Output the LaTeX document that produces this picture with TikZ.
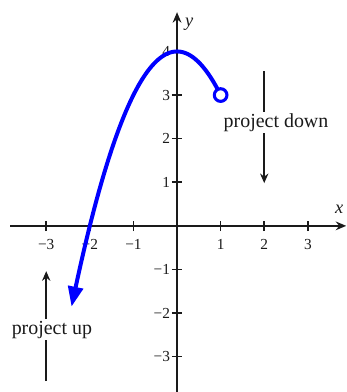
\documentclass[tikz,border=0pt]{standalone}
\usepackage{fontspec}
\setmainfont{Liberation Serif}
\newfontfamily\prserif{Liberation Serif}
\usetikzlibrary{arrows.meta, positioning}
\definecolor{PRblue}{HTML}{0000FF}
\definecolor{PRink}{HTML}{1A1A1A}
\tikzset{
  praxis/.style={draw=PRink, line width=1pt, -{Stealth[length=2.4mm,width=2mm]}},
  prtick/.style={draw=PRink, line width=1pt},
  prnum/.style={font=\prserif\fontsize{10}{12}\selectfont, text=PRink, inner sep=1pt},
  prvar/.style={font=\prserif\fontsize{12}{14}\selectfont\itshape, text=PRink, inner sep=1pt},
  prcurve/.style={draw=PRblue, line width=2.6pt, line cap=round,
    -{Triangle[length=4.6mm,width=3.4mm]}},
  prhole/.style={circle, draw=PRblue, fill=white, line width=2pt,
    minimum size=2.9mm, inner sep=0pt},
  prlbl/.style={font=\prserif\fontsize{13}{15}\selectfont, text=PRink, inner sep=1pt},
  prline/.style={draw=PRink, line width=1pt},
  prarr/.style={prline, -{Stealth[length=2.2mm,width=1.9mm]}},
}
\begin{document}
\begin{tikzpicture}[font=\prserif]
  \useasboundingbox (-4.06,-3.81) rectangle (3.88,5.18);
  %% Axes
  \coordinate (xl) at (-3.83,0); \coordinate (xr) at (3.88,0);
  \coordinate (yb) at (0,-3.81); \coordinate (yt) at (0,4.9);
  \draw[praxis] (xl) -- (xr);
  \draw[praxis] (yb) -- (yt);
  \node[prvar] (xlab) at (3.72,0.37) {x};
  \node[prvar] (ylab) at (0.28,4.62) {y};
  %% Ticks
  \foreach \i/\t in {-3/−3, -2/−2, -1/−1, 1/1, 2/2, 3/3} {
    \draw[prtick] (\i,-0.12) -- (\i,0.12);
    \node[prnum] (xt\i) at (\i,-0.42) {\t};
  }
  \foreach \i/\t in {-3/−3, -2/−2, -1/−1, 1/1, 2/2, 3/3, 4/4} {
    \draw[prtick] (-0.12,\i) -- (0.12,\i);
    \node[prnum, anchor=east] (yt\i) at (-0.12,\i) {\t};
  }
  %% Curve
  \draw[prcurve] plot[domain=1:-2.42, samples=60, smooth] (\x, {4-\x*\x});
  \node[prhole] (hole) at (1,3) {};
  %% Project down
  \node[prlbl] (pdown) at (2.27,2.37) {project down};
  \coordinate (pdtop) at (2,3.55);
  \coordinate (pdend) at (2,0.98);
  \draw[prline] (pdtop) -- (pdtop |- pdown.north);
  \draw[prarr] (pdend |- pdown.south) -- (pdend);
  %% Project up
  \node[prlbl] (pup) at (-2.87,-2.38) {project up};
  \coordinate (pubot) at (-3,-3.56);
  \coordinate (puend) at (-3,-1.04);
  \draw[prline] (pubot) -- (pubot |- pup.south);
  \draw[prarr] (puend |- pup.north) -- (puend);
\end{tikzpicture}
\end{document}
